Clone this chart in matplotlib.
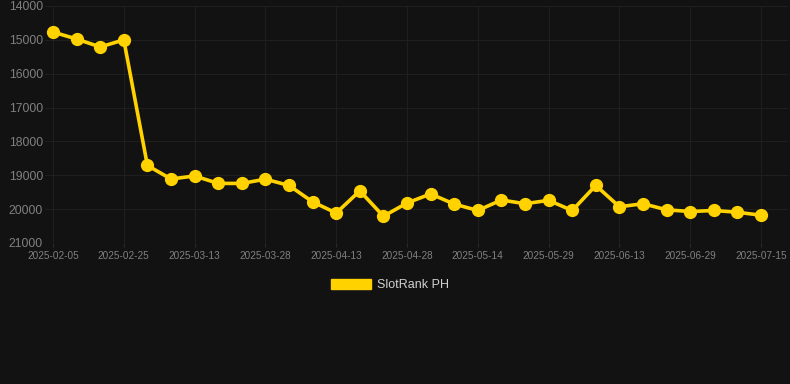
import matplotlib
matplotlib.use("Agg")
import matplotlib.pyplot as plt
from matplotlib.patches import Patch

# SlotRank PH - posição ao longo do tempo (eixo invertido)
datas = ['2025-02-05', '2025-02-12', '2025-02-19', '2025-02-25', '2025-03-02',
         '2025-03-07', '2025-03-13', '2025-03-18', '2025-03-23', '2025-03-28',
         '2025-04-02', '2025-04-07', '2025-04-13', '2025-04-18', '2025-04-23',
         '2025-04-28', '2025-05-03', '2025-05-09', '2025-05-14', '2025-05-19',
         '2025-05-24', '2025-05-29', '2025-06-03', '2025-06-08', '2025-06-13',
         '2025-06-18', '2025-06-24', '2025-06-29', '2025-07-04', '2025-07-10',
         '2025-07-15']
ranking = [14770, 14975, 15210, 15000, 18710, 19110, 19020, 19240, 19240, 19115,
           19300, 19785, 20115, 19460, 20210, 19820, 19550, 19850, 20040, 19730,
           19840, 19740, 20040, 19300, 19930, 19840, 20020, 20070, 20040, 20090,
           20180]
yticks = [14000, 15000, 16000, 17000, 18000, 19000, 20000, 21000]

bg = '#121212'
grid = '#1f1f1f'
amarelo = '#FFD200'

fig = plt.figure(figsize=(7.9, 3.84), dpi=100, facecolor=bg)
ax = fig.add_axes([45/790, 1 - 243/384, (788 - 45)/790, (243 - 6)/384])
ax.set_facecolor(bg)

x = list(range(len(datas)))
ax.plot(x, ranking, color=amarelo, lw=2.6, marker='o', ms=8.5,
        markerfacecolor=amarelo, markeredgecolor=amarelo, zorder=3)

ax.set_ylim(21000, 14000)
ax.set_yticks(yticks)
ax.set_yticklabels([str(v) for v in yticks])

px = 708 / 30
ax.set_xlim(-8 / px, 30 + 27 / px)
ax.set_xticks(x[::3])
ax.set_xticklabels(datas[::3])

for s in ax.spines.values():
    s.set_visible(False)
ax.grid(True, color=grid, lw=0.8)
ax.tick_params(axis='y', length=0, pad=1.5, labelsize=8.8, labelcolor='#808080')
ax.tick_params(axis='x', length=3, color='#2a2a2a', pad=2.5, labelsize=7.2, labelcolor='#808080')
for lbl in ax.get_xticklabels() + ax.get_yticklabels():
    lbl.set_fontfamily(['Liberation Sans', 'DejaVu Sans'])

handle = Patch(facecolor=amarelo, edgecolor=amarelo)
leg = fig.legend([handle], ['SlotRank PH'], loc='center',
                 bbox_to_anchor=(390/790, 1 - 285/384), frameon=False,
                 handlelength=3.2, handleheight=0.95, handletextpad=0.5,
                 prop={'family': ['Liberation Sans', 'DejaVu Sans'], 'size': 9})
for t in leg.get_texts():
    t.set_color('#d0d0d0')

fig.savefig('out.png', dpi=100, facecolor=bg)
